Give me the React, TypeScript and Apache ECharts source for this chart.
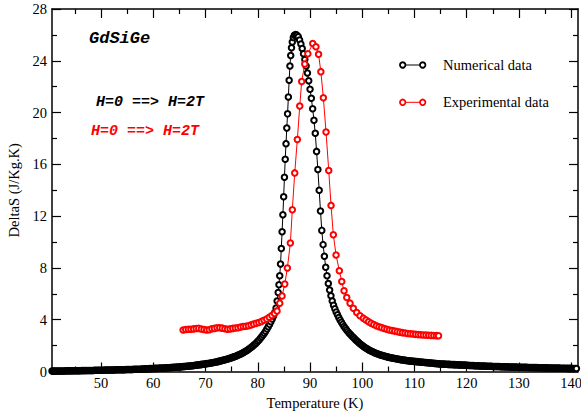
import React, { useEffect, useRef } from 'react';
import * as echarts from 'echarts';

// Numerical data: [Temperature (K), DeltaS (J/Kg.K)]
const numericalData: [number, number][] = [
  [40.6, 0.03], [40.75, 0.03], [41, 0.03], [41.25, 0.03], [41.5, 0.03], [41.75, 0.04], [42, 0.04], [42.25, 0.04], [42.5, 0.04], [42.75, 0.04],
  [43, 0.04], [43.25, 0.05], [43.5, 0.05], [43.75, 0.05], [44, 0.05], [44.25, 0.05], [44.5, 0.05], [44.75, 0.06], [45, 0.06], [45.25, 0.06],
  [45.5, 0.06], [45.75, 0.06], [46, 0.06], [46.25, 0.07], [46.5, 0.07], [46.75, 0.07], [47, 0.07], [47.25, 0.08], [47.5, 0.08], [47.75, 0.08],
  [48, 0.08], [48.25, 0.08], [48.5, 0.08], [48.75, 0.09], [49, 0.09], [49.25, 0.09], [49.5, 0.09], [49.75, 0.1], [50, 0.1], [50.25, 0.1],
  [50.5, 0.1], [50.75, 0.11], [51, 0.11], [51.25, 0.11], [51.5, 0.11], [51.75, 0.12], [52, 0.12], [52.25, 0.12], [52.5, 0.12], [52.75, 0.13],
  [53, 0.13], [53.25, 0.13], [53.5, 0.13], [53.75, 0.14], [54, 0.14], [54.25, 0.14], [54.5, 0.14], [54.75, 0.15], [55, 0.15], [55.25, 0.16],
  [55.5, 0.16], [55.75, 0.16], [56, 0.16], [56.25, 0.17], [56.5, 0.17], [56.75, 0.18], [57, 0.18], [57.25, 0.18], [57.5, 0.18], [57.75, 0.19],
  [58, 0.19], [58.25, 0.2], [58.5, 0.2], [58.75, 0.21], [59, 0.21], [59.25, 0.22], [59.5, 0.22], [59.75, 0.23], [60, 0.23], [60.25, 0.24],
  [60.5, 0.24], [60.75, 0.25], [61, 0.25], [61.25, 0.26], [61.5, 0.26], [61.75, 0.27], [62, 0.27], [62.25, 0.28], [62.5, 0.28], [62.75, 0.29],
  [63, 0.29], [63.25, 0.3], [63.5, 0.31], [63.75, 0.32], [64, 0.32], [64.25, 0.33], [64.5, 0.34], [64.75, 0.35], [65, 0.35], [65.25, 0.36],
  [65.5, 0.37], [65.75, 0.38], [66, 0.39], [66.25, 0.4], [66.5, 0.41], [66.75, 0.42], [67, 0.43], [67.25, 0.44], [67.5, 0.45], [67.75, 0.47],
  [68, 0.48], [68.25, 0.49], [68.5, 0.5], [68.75, 0.52], [69, 0.53], [69.25, 0.55], [69.5, 0.56], [69.75, 0.58], [70, 0.59], [70.25, 0.61],
  [70.5, 0.62], [70.75, 0.64], [71, 0.66], [71.25, 0.68], [71.5, 0.7], [71.75, 0.72], [72, 0.74], [72.25, 0.76], [72.5, 0.78], [72.75, 0.81],
  [73, 0.83], [73.25, 0.86], [73.5, 0.88], [73.75, 0.91], [74, 0.94], [74.25, 0.97], [74.5, 1.0], [74.75, 1.04], [75, 1.07], [75.25, 1.11],
  [75.5, 1.14], [75.75, 1.18], [76, 1.22], [76.25, 1.27], [76.5, 1.31], [76.75, 1.36], [77, 1.41], [77.25, 1.47], [77.5, 1.52], [77.75, 1.59],
  [78, 1.65], [78.25, 1.72], [78.5, 1.79], [78.75, 1.87], [79, 1.95], [79.25, 2.04], [79.5, 2.13], [79.75, 2.23], [80, 2.33], [80.25, 2.44],
  [80.5, 2.56], [80.75, 2.69], [81, 2.82], [81.25, 2.96], [81.5, 3.11], [81.75, 3.28], [82, 3.45], [82.25, 3.64], [82.5, 3.84], [82.75, 4.05],
  [83, 4.28], [83.25, 4.55], [83.5, 4.9], [83.7, 5.45], [83.9, 6.1], [84.05, 6.7], [84.2, 7.4], [84.35, 8.3], [84.5, 9.5], [84.65, 10.8],
  [84.8, 12.1], [84.95, 13.5], [85.1, 15.0], [85.25, 16.4], [85.4, 17.6], [85.55, 18.8], [85.7, 19.9], [85.85, 21.2], [86.0, 22.5],
  [86.15, 23.6], [86.3, 24.4], [86.45, 25.0], [86.6, 25.45], [86.8, 25.8], [87.0, 25.97], [87.25, 26.03],
  [87.5, 25.98], [87.75, 25.85], [88.0, 25.6], [88.25, 25.3], [88.5, 24.95], [88.75, 24.55], [89.0, 24.1], [89.25, 23.6],
  [89.5, 23.05], [89.75, 22.45], [90.0, 21.8], [90.25, 21.1], [90.5, 20.3], [90.75, 19.4], [91.0, 18.4], [91.25, 17.0],
  [91.5, 15.6], [91.75, 14.0], [92.0, 12.4], [92.25, 10.9], [92.5, 9.8], [92.75, 8.9], [93.0, 8.05], [93.25, 7.4],
  [93.5, 6.8], [93.75, 6.3], [94.0, 5.85], [94.25, 5.45], [94.5, 5.12], [94.75, 4.85], [95.0, 4.6], [95.25, 4.38],
  [95.5, 4.17], [95.75, 3.98], [96, 3.8], [96.25, 3.64], [96.5, 3.48], [96.75, 3.34], [97, 3.2], [97.25, 3.08], [97.5, 2.96],
  [97.75, 2.85], [98, 2.75], [98.25, 2.64], [98.5, 2.54], [98.75, 2.44], [99, 2.35], [99.25, 2.26], [99.5, 2.17], [99.75, 2.08],
  [100, 2.0], [100.25, 1.93], [100.5, 1.86], [100.75, 1.79], [101, 1.73], [101.25, 1.67], [101.5, 1.62], [101.75, 1.57], [102, 1.52],
  [102.25, 1.47], [102.5, 1.43], [102.75, 1.39], [103, 1.35], [103.25, 1.31], [103.5, 1.28], [103.75, 1.25], [104, 1.22], [104.25, 1.19],
  [104.5, 1.16], [104.75, 1.13], [105, 1.11], [105.25, 1.08], [105.5, 1.06], [105.75, 1.04], [106, 1.02], [106.25, 1.0], [106.5, 0.98],
  [106.75, 0.96], [107, 0.94], [107.25, 0.92], [107.5, 0.91], [107.75, 0.89], [108, 0.88], [108.25, 0.86], [108.5, 0.85], [108.75, 0.83],
  [109, 0.82], [109.25, 0.81], [109.5, 0.8], [109.75, 0.79], [110, 0.78], [110.25, 0.77], [110.5, 0.76], [110.75, 0.75], [111, 0.74],
  [111.25, 0.73], [111.5, 0.72], [111.75, 0.71], [112, 0.7], [112.25, 0.69], [112.5, 0.68], [112.75, 0.67], [113, 0.66], [113.25, 0.65],
  [113.5, 0.64], [113.75, 0.63], [114, 0.62], [114.25, 0.61], [114.5, 0.6], [114.75, 0.59], [115, 0.58], [115.25, 0.58], [115.5, 0.57],
  [115.75, 0.57], [116, 0.56], [116.25, 0.56], [116.5, 0.55], [116.75, 0.55], [117, 0.54], [117.25, 0.54], [117.5, 0.53], [117.75, 0.53],
  [118, 0.52], [118.25, 0.52], [118.5, 0.51], [118.75, 0.51], [119, 0.5], [119.25, 0.5], [119.5, 0.49], [119.75, 0.49], [120, 0.48],
  [120.25, 0.48], [120.5, 0.47], [120.75, 0.47], [121, 0.46], [121.25, 0.46], [121.5, 0.45], [121.75, 0.45], [122, 0.44], [122.25, 0.44],
  [122.5, 0.43], [122.75, 0.43], [123, 0.42], [123.25, 0.42], [123.5, 0.42], [123.75, 0.41], [124, 0.41], [124.25, 0.41], [124.5, 0.4],
  [124.75, 0.4], [125, 0.39], [125.25, 0.39], [125.5, 0.39], [125.75, 0.38], [126, 0.38], [126.25, 0.38], [126.5, 0.37], [126.75, 0.37],
  [127, 0.37], [127.25, 0.36], [127.5, 0.36], [127.75, 0.36], [128, 0.35], [128.25, 0.35], [128.5, 0.35], [128.75, 0.34], [129, 0.34],
  [129.25, 0.34], [129.5, 0.34], [129.75, 0.33], [130, 0.33], [130.25, 0.33], [130.5, 0.33], [130.75, 0.32], [131, 0.32], [131.25, 0.32],
  [131.5, 0.32], [131.75, 0.31], [132, 0.31], [132.25, 0.31], [132.5, 0.31], [132.75, 0.3], [133, 0.3], [133.25, 0.3], [133.5, 0.3],
  [133.75, 0.29], [134, 0.29], [134.25, 0.29], [134.5, 0.29], [134.75, 0.28], [135, 0.28], [135.25, 0.28], [135.5, 0.28], [135.75, 0.27],
  [136, 0.27], [136.25, 0.27], [136.5, 0.27], [136.75, 0.26], [137, 0.26], [137.25, 0.26], [137.5, 0.26], [137.75, 0.26], [138, 0.25],
  [138.25, 0.25], [138.5, 0.25], [138.75, 0.25], [139, 0.25], [139.25, 0.24], [139.5, 0.24], [139.75, 0.24], [140, 0.24], [140.25, 0.23],
  [140.5, 0.23], [140.75, 0.23], [141, 0.23],
];

// Experimental data: [Temperature (K), DeltaS (J/Kg.K)]
const experimentalData: [number, number][] = [
  [65.7, 3.21], [66.2, 3.24], [66.7, 3.26], [67.2, 3.27], [67.7, 3.29], [68.2, 3.32], [68.7, 3.33], [69.2, 3.28], [69.7, 3.24], [70.2, 3.2],
  [70.7, 3.23], [71.2, 3.3], [71.7, 3.33], [72.2, 3.37], [72.7, 3.38], [73.2, 3.35], [73.7, 3.3], [74.2, 3.27], [74.7, 3.29], [75.2, 3.33],
  [75.7, 3.36], [76.2, 3.38], [76.7, 3.43], [77.2, 3.47], [77.7, 3.5], [78.2, 3.54], [78.7, 3.6], [79.2, 3.66], [79.7, 3.72], [80.2, 3.79],
  [80.7, 3.87], [81.2, 3.96], [81.7, 4.06], [82.2, 4.19], [82.7, 4.32], [83.2, 4.48], [83.68, 4.68],
  [84.2, 5.28], [84.64, 5.84], [85.16, 6.75], [85.66, 7.99], [86.23, 9.92], [86.61, 12.5], [87.07, 15.34], [87.57, 17.92],
  [88.03, 20.5], [88.4, 22.4], [88.99, 23.75], [89.58, 24.54], [90.52, 25.33], [91.13, 25.09], [91.63, 24.5], [92.07, 23.16],
  [92.55, 21.15], [93.06, 18.5], [93.58, 15.52], [94.02, 12.83], [94.46, 10.56], [94.98, 9.0], [95.61, 7.78], [96.07, 6.95],
  [96.51, 6.23], [97.03, 5.71], [97.66, 5.28], [98.29, 4.89], [98.94, 4.55], [99.57, 4.3], [100.2, 4.12],
  [100.7, 3.98], [101.2, 3.85], [101.7, 3.73], [102.2, 3.63], [102.7, 3.54], [103.2, 3.46], [103.7, 3.39], [104.2, 3.32],
  [104.7, 3.26], [105.2, 3.21], [105.7, 3.16], [106.2, 3.12], [106.7, 3.08], [107.2, 3.04], [107.7, 3.0], [108.2, 2.97],
  [108.7, 2.94], [109.2, 2.92], [109.7, 2.89], [110.2, 2.87], [110.7, 2.85], [111.2, 2.84], [111.7, 2.82], [112.2, 2.81],
  [112.7, 2.8], [113.2, 2.79], [113.7, 2.78], [114.2, 2.77], [114.6, 2.76],
];

const xMajorTicks = [50, 60, 70, 80, 90, 100, 110, 120, 130, 140];
const xMinorTicks = [45, 55, 65, 75, 85, 95, 105, 115, 125, 135];
const X_MIN = 40.6;
const X_MAX = 141.3;
const Y_MIN = 0;
const Y_MAX = 28;
const Y_STEP = 4;

const seriesNames = ['Numerical data', 'Experimental data'];
const seriesColors = ['#000000', '#ff0000'];
const annotationTitle = 'GdSiGe';
const annotationField = 'H=0 ==> H=2T';

const SERIF = '"Liberation Serif", "Times New Roman", serif';
const MONO = '"Liberation Mono", "Courier New", monospace';

export default function App() {
  const ref = useRef<HTMLDivElement>(null);

  useEffect(() => {
    if (!ref.current) return;
    const chart = echarts.init(ref.current, undefined, { renderer: 'svg' });
    const axisLine = { color: '#000', width: 1.5 };
    const tickLine = { color: '#000', width: 1.2 };

    const xBase = (position: 'top' | 'bottom') => ({
      type: 'value' as const,
      position,
      min: X_MIN,
      max: X_MAX,
      splitNumber: 10,
      splitLine: { show: false },
    });

    const labelFormatter = (v: number) =>
      xMajorTicks.some((t) => Math.abs(t - v) < 1e-6) ? String(v) : '';

    const option: any = {
      animation: false,
      backgroundColor: '#ffffff',
      grid: { left: 52, right: 3, top: 9, bottom: 44.5, outerBoundsMode: 'none', containLabel: false },
      xAxis: [
        {
          ...xBase('bottom'),
          axisLine: { show: true, onZero: false, lineStyle: axisLine },
          axisTick: { show: true, inside: true, length: 9, lineStyle: tickLine, customValues: xMajorTicks },
          axisLabel: {
            show: true, margin: 4, color: '#000', fontFamily: SERIF, fontSize: 14.5,
            customValues: xMajorTicks, formatter: labelFormatter, showMinLabel: true, showMaxLabel: true,
          },
          name: 'Temperature (K)',
          nameLocation: 'middle',
          nameGap: 23,
          nameTextStyle: { color: '#000', fontFamily: SERIF, fontSize: 14.5 },
        },
        {
          ...xBase('bottom'),
          axisLine: { show: false, onZero: false },
          axisTick: { show: true, inside: true, length: 5, lineStyle: tickLine, customValues: xMinorTicks },
          axisLabel: { show: false },
        },
        {
          ...xBase('top'),
          axisLine: { show: true, onZero: false, lineStyle: axisLine },
          axisTick: { show: true, inside: true, length: 9, lineStyle: tickLine, customValues: xMajorTicks },
          axisLabel: { show: false },
        },
        {
          ...xBase('top'),
          axisLine: { show: false, onZero: false },
          axisTick: { show: true, inside: true, length: 5, lineStyle: tickLine, customValues: xMinorTicks },
          axisLabel: { show: false },
        },
      ],
      yAxis: [
        {
          type: 'value',
          position: 'left',
          min: Y_MIN,
          max: Y_MAX,
          interval: Y_STEP,
          splitLine: { show: false },
          axisLine: { show: true, onZero: false, lineStyle: axisLine },
          axisTick: { show: true, inside: true, length: 9, lineStyle: tickLine },
          minorTick: { show: true, splitNumber: 2, length: 5, lineStyle: tickLine },
          axisLabel: { show: true, margin: 5, color: '#000', fontFamily: SERIF, fontSize: 14.5 },
          name: 'DeltaS (J/Kg.K)',
          nameLocation: 'middle',
          nameRotate: 90,
          nameGap: 22,
          nameTextStyle: { color: '#000', fontFamily: SERIF, fontSize: 14.5 },
        },
        {
          type: 'value',
          position: 'right',
          min: Y_MIN,
          max: Y_MAX,
          interval: Y_STEP,
          splitLine: { show: false },
          axisLine: { show: true, onZero: false, lineStyle: axisLine },
          axisTick: { show: true, inside: true, length: 9, lineStyle: tickLine },
          minorTick: { show: true, splitNumber: 2, length: 5, lineStyle: tickLine },
          axisLabel: { show: false },
        },
      ],
      series: [numericalData, experimentalData].map((d, i) => ({
        name: seriesNames[i],
        type: 'line',
        xAxisIndex: 0,
        yAxisIndex: 0,
        data: d,
        symbol: 'circle',
        symbolSize: 5.5,
        showSymbol: true,
        itemStyle: { color: '#ffffff', borderColor: seriesColors[i], borderWidth: 2 },
        lineStyle: { color: seriesColors[i], width: 1 },
        emphasis: { disabled: true },
        z: 2 + i,
      })),
      graphic: [
        {
          type: 'text', x: 89, y: 38, z: 10,
          style: { text: annotationTitle, font: `italic bold 17px ${MONO}`, fill: '#000', align: 'left', verticalAlign: 'middle' },
        },
        {
          type: 'text', x: 96, y: 102, z: 10,
          style: { text: annotationField, font: `italic bold 15px ${MONO}`, fill: '#000', align: 'left', verticalAlign: 'middle' },
        },
        {
          type: 'text', x: 91, y: 131, z: 10,
          style: { text: annotationField, font: `italic bold 15px ${MONO}`, fill: '#ff0000', align: 'left', verticalAlign: 'middle' },
        },
        ...[65, 102.3].flatMap((yy, i) => [
          { type: 'line', z: 10, shape: { x1: 402.7, y1: yy, x2: 422.7, y2: yy }, style: { stroke: seriesColors[i], lineWidth: 1 } },
          { type: 'circle', z: 11, shape: { cx: 402.7, cy: yy, r: 2.75 }, style: { fill: '#fff', stroke: seriesColors[i], lineWidth: 1.8 } },
          { type: 'circle', z: 11, shape: { cx: 422.7, cy: yy, r: 2.75 }, style: { fill: '#fff', stroke: seriesColors[i], lineWidth: 1.8 } },
          {
            type: 'text', x: 443, y: yy, z: 10,
            style: { text: seriesNames[i], font: `14.5px ${SERIF}`, fill: '#000', align: 'left', verticalAlign: 'middle' },
          },
        ]),
      ],
    };
    chart.setOption(option);
    return () => chart.dispose();
  }, []);

  return (
    <div
      ref={ref}
      style={{ position: 'fixed', left: 0, top: 0, width: 581, height: 416, background: '#fff' }}
    />
  );
}
